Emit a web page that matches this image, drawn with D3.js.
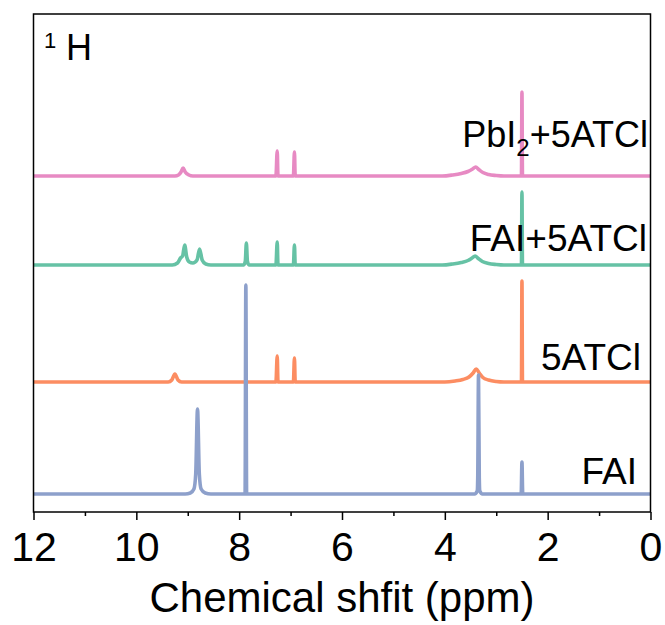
<!DOCTYPE html>
<html>
<head>
<meta charset="utf-8">
<script src="https://cdn.jsdelivr.net/npm/d3@7"></script>
<style>
  html, body { margin: 0; padding: 0; background: #fff; }
  svg { display: block; }
  text { font-family: "Liberation Sans", Arial, sans-serif; fill: #000; }
</style>
</head>
<body>
<svg id="chart" width="665" height="625"></svg>
<script>
// ---- data (ppm, intensity above own baseline) ----
const seriesNames = ["FAI", "5ATCl", "FAI+5ATCl", "PbI2+5ATCl"];
const seriesColors = ["#8DA0CB", "#FC8D62", "#66C2A5", "#E78AC3"];
const seriesOffsets = [18, 130, 247, 336];

const faiPoints = [
  [12, 0], [9.05, 0], [8.95, 1], [8.88, 5], [8.845, 20], [8.81, 85], [8.775, 20],
  [8.74, 5], [8.66, 1], [8.55, 0], [7.9, 0], [7.885, 0], [7.87, 209], [7.855, 0],
  [3.42, 0], [3.37, 3], [3.36, 16], [3.345, 119], [3.33, 16], [3.32, 3], [3.27, 0],
  [2.53, 0], [2.515, 0], [2.50, 32], [2.485, 0], [0, 0]
];
const atclPoints = [
  [12, 0], [9.38, 0], [9.31, 2], [9.25, 8], [9.19, 2], [9.12, 0],
  [7.285, 0], [7.26, 26], [7.245, 0], [6.945, 0], [6.925, 24], [6.91, 0],
  [4.0, 0], [3.8, 1], [3.65, 2.5], [3.53, 5], [3.45, 9], [3.39, 13], [3.33, 9],
  [3.26, 4.5], [3.15, 2], [3.0, 0.5], [2.85, 0],
  [2.525, 0], [2.51, 0], [2.50, 101], [2.49, 0], [0, 0]
];
const faiAtclPoints = [
  [12, 0], [9.3, 0], [9.2, 2], [9.14, 7], [9.1, 9], [9.06, 20], [9.02, 8],
  [8.97, 3], [8.9, 2], [8.82, 5], [8.77, 16], [8.72, 5], [8.65, 1], [8.55, 0],
  [7.91, 0], [7.88, 4], [7.86, 22], [7.84, 4], [7.81, 0],
  [7.285, 0], [7.26, 23], [7.245, 0], [6.945, 0], [6.925, 20], [6.91, 0],
  [4.05, 0], [3.85, 1], [3.68, 2.5], [3.55, 4.5], [3.47, 7], [3.41, 9], [3.35, 6.5],
  [3.27, 3.5], [3.15, 1.5], [3.0, 0.5], [2.85, 0],
  [2.525, 0], [2.51, 0], [2.50, 73], [2.49, 0], [0, 0]
];
const pbiAtclPoints = [
  [12, 0], [9.25, 0], [9.18, 1], [9.13, 4], [9.09, 8], [9.05, 4], [8.98, 1], [8.9, 0],
  [7.285, 0], [7.26, 25], [7.245, 0], [6.945, 0], [6.925, 24], [6.91, 0],
  [4.05, 0], [3.85, 1], [3.68, 2.5], [3.55, 4.5], [3.46, 7], [3.40, 9], [3.34, 6.5],
  [3.26, 3.5], [3.15, 1.5], [3.0, 0.5], [2.85, 0],
  [2.525, 0], [2.51, 0], [2.50, 84], [2.49, 0], [0, 0]
];
const seriesPoints = [faiPoints, atclPoints, faiAtclPoints, pbiAtclPoints];

const majorTicks = [12, 10, 8, 6, 4, 2, 0];
const minorTicks = [11, 9, 7, 5, 3, 1];
const xDomain = [12, 0];
const yDomain = [0, 498];
const xTitle = "Chemical shfit (ppm)";

// ---- layout ----
const plotLeft = 33.5, plotRight = 650.5, plotTop = 14, plotBottom = 512;
const svg = d3.select("#chart");

const x = d3.scaleLinear().domain(xDomain).range([plotLeft, plotRight]);
const y = d3.scaleLinear().domain(yDomain).range([plotBottom, plotTop]);

// spectra (draw pink first, blue on top)
const line = d3.line()
  .x(d => x(d[0]))
  .y(d => y(d[1]))
  .curve(d3.curveMonotoneX);

const order = [3, 2, 1, 0];
const g = svg.append("g");
order.forEach(i => {
  const pts = seriesPoints[i].map(p => [p[0], p[1] + seriesOffsets[i]]);
  g.append("path")
    .attr("d", line(pts))
    .attr("fill", "none")
    .attr("stroke", seriesColors[i])
    .attr("stroke-width", 3.6)
    .attr("stroke-linejoin", "round")
    .attr("stroke-linecap", "butt");
});

// frame
svg.append("rect")
  .attr("x", plotLeft).attr("y", plotTop)
  .attr("width", plotRight - plotLeft).attr("height", plotBottom - plotTop)
  .attr("fill", "none").attr("stroke", "#000").attr("stroke-width", 1.5);

// axes
const axMajor = svg.append("g").attr("transform", `translate(0,${plotBottom})`)
  .call(d3.axisBottom(x).tickValues(majorTicks).tickSize(8).tickPadding(12)
    .tickFormat(d3.format("d")));
axMajor.select(".domain").remove();
axMajor.selectAll("line").attr("stroke", "#000").attr("stroke-width", 1.5);
axMajor.selectAll("text").style("font-size", "41px")
  .style("font-family", "'Liberation Sans', Arial, sans-serif").attr("fill", "#000");

const axMinor = svg.append("g").attr("transform", `translate(0,${plotBottom})`)
  .call(d3.axisBottom(x).tickValues(minorTicks).tickSize(4).tickFormat(""));
axMinor.select(".domain").remove();
axMinor.selectAll("line").attr("stroke", "#000").attr("stroke-width", 1.5);

// axis title
svg.append("text")
  .attr("x", 342).attr("y", 612)
  .attr("text-anchor", "middle")
  .style("font-size", "42px")
  .text(xTitle);

// 1H label
svg.append("text").attr("x", 44).attr("y", 48).style("font-size", "22px").text("1");
svg.append("text").attr("x", 66).attr("y", 60).style("font-size", "36px").text("H");

// series labels
const labelPos = [[637, 484], [641, 370], [647, 251], [648, 147]];
[0, 1, 2].forEach(i => {
  svg.append("text")
    .attr("x", labelPos[i][0]).attr("y", labelPos[i][1])
    .attr("text-anchor", "end")
    .style("font-size", "37px")
    .text(seriesNames[i]);
});
const pb = svg.append("text")
  .attr("x", labelPos[3][0]).attr("y", labelPos[3][1])
  .attr("text-anchor", "end")
  .style("font-size", "36px");
pb.append("tspan").text("PbI");
pb.append("tspan").attr("dy", 9).style("font-size", "24px").text("2");
pb.append("tspan").attr("dy", -9).text("+5ATCl");
</script>
</body>
</html>
